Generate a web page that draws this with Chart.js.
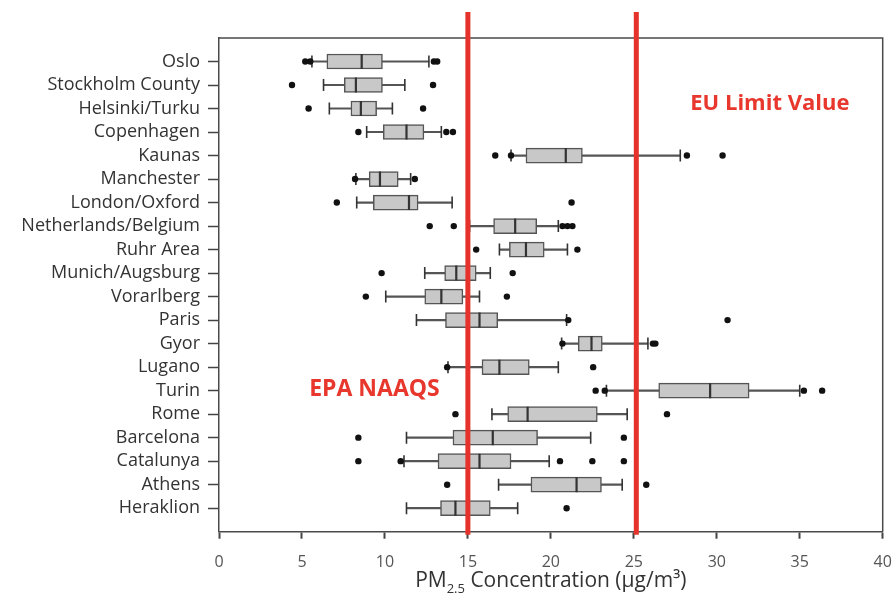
<!DOCTYPE html>
<html>
<head>
<meta charset="utf-8">
<script src="https://cdn.jsdelivr.net/npm/chart.js@4"></script>
<style>
  html, body { margin: 0; padding: 0; background: #fff; }
  #wrap { width: 894px; height: 597px; }
</style>
</head>
<body>
<div id="wrap"><canvas id="pmChart" width="894" height="597"></canvas></div>
<script>
const cities = ["Oslo", "Stockholm County", "Helsinki/Turku", "Copenhagen", "Kaunas",
  "Manchester", "London/Oxford", "Netherlands/Belgium", "Ruhr Area", "Munich/Augsburg",
  "Vorarlberg", "Paris", "Gyor", "Lugano", "Turin", "Rome", "Barcelona", "Catalunya",
  "Athens", "Heraklion"];

const whiskerLow  = [5.6, 6.3, 6.65, 8.9, 17.6, 8.25, 8.3, 15.1, 16.9, 12.4, 10.05, 11.9, 20.65, 13.8, 23.35, 16.45, 11.3, 11.15, 16.85, 11.3];
const q1          = [6.5, 7.55, 7.95, 9.9, 18.5, 9.05, 9.3, 16.55, 17.5, 13.6, 12.4, 13.65, 21.65, 15.85, 26.5, 17.4, 14.1, 13.2, 18.8, 13.35];
const medians     = [8.6, 8.25, 8.55, 11.3, 20.9, 9.7, 11.45, 17.85, 18.5, 14.3, 13.4, 15.7, 22.45, 16.9, 29.6, 18.6, 16.5, 15.7, 21.55, 14.25];
const q3          = [9.85, 9.85, 9.5, 12.35, 21.9, 10.8, 12.0, 19.15, 19.6, 15.5, 14.7, 16.8, 23.1, 18.7, 31.95, 22.8, 19.2, 17.6, 23.05, 16.35];
const whiskerHigh = [12.65, 11.2, 10.45, 13.4, 27.8, 11.55, 14.05, 20.45, 21.0, 16.35, 15.7, 20.95, 25.85, 20.45, 35.0, 24.6, 22.4, 19.9, 24.3, 18.0];
const outliers = [
  [5.2, 5.5, 12.95, 13.15],
  [4.4, 12.9],
  [5.4, 12.3],
  [8.4, 13.7, 14.1],
  [16.65, 17.6, 28.2, 30.35],
  [8.2, 11.8],
  [7.1, 21.25],
  [12.7, 14.15, 20.7, 21.0, 21.3],
  [15.5, 21.6],
  [9.8, 17.7],
  [8.85, 17.35],
  [21.05, 30.65],
  [20.7, 26.15, 26.3],
  [13.75, 22.55],
  [22.7, 23.25, 35.25, 36.35],
  [14.25, 27.0],
  [8.4, 24.4],
  [8.4, 10.95, 20.55, 22.5, 24.4],
  [13.75, 25.75],
  [20.95]
];
const xTicks = [0, 5, 10, 15, 20, 25, 30, 35, 40];
const limitLines = [15, 25.15];
const limitLabels = ["EPA NAAQS", "EU Limit Value"];

const red = "#e5322a";
const boxFill = "#c8c8c8";
const darkLine = "#4a4a4a";

const outlierPoints = [];
outliers.forEach(function (list, i) {
  list.forEach(function (v) { outlierPoints.push({ x: v, y: i }); });
});
const capPoints = cities.map((c, i) => ({ x: whiskerLow[i], y: i }))
  .concat(cities.map((c, i) => ({ x: whiskerHigh[i], y: i })));

// frame, limit lines, annotations and the x axis title (with subscript)
const overlayPlugin = {
  id: "overlay",
  afterDatasetsDraw(chart) {
    const { ctx, chartArea, scales } = chart;
    ctx.save();
    ctx.strokeStyle = darkLine;
    ctx.lineWidth = 1.5;
    ctx.beginPath();
    ctx.moveTo(chartArea.left, chartArea.top);
    ctx.lineTo(chartArea.right, chartArea.top);
    ctx.lineTo(chartArea.right, chartArea.bottom);
    ctx.stroke();

    ctx.strokeStyle = red;
    ctx.lineWidth = 5;
    limitLines.forEach(function (v) {
      const px = scales.x.getPixelForValue(v);
      ctx.beginPath();
      ctx.moveTo(px, chartArea.top - 26);
      ctx.lineTo(px, chartArea.bottom + 3);
      ctx.stroke();
    });

    ctx.fillStyle = "#e8372d";
    ctx.textAlign = "center";
    ctx.textBaseline = "middle";
    ctx.font = "bold 23px 'Open Sans', sans-serif";
    ctx.fillText(limitLabels[0], scales.x.getPixelForValue(9.37), scales.y.getPixelForValue(13.93));
    ctx.font = "bold 22px 'Open Sans', sans-serif";
    ctx.fillText(limitLabels[1], scales.x.getPixelForValue(33.2), scales.y.getPixelForValue(1.8));
    ctx.restore();
  },
  afterDraw(chart) {
    const { ctx, chartArea } = chart;
    ctx.save();
    ctx.fillStyle = "#333";
    ctx.textBaseline = "alphabetic";
    ctx.textAlign = "left";
    const big = "21px 'Open Sans', sans-serif";
    const small = "13px 'Open Sans', sans-serif";
    const parts = [["PM", big, 0], ["2.5", small, 6], [" Concentration (\u00b5g/m\u00b3)", big, 0]];
    let total = 0;
    parts.forEach(function (p) { ctx.font = p[1]; total += ctx.measureText(p[0]).width; });
    let x = (chartArea.left + chartArea.right) / 2 - total / 2;
    const base = 587;
    parts.forEach(function (p) {
      ctx.font = p[1];
      ctx.fillText(p[0], x, base + p[2]);
      x += ctx.measureText(p[0]).width;
    });
    ctx.restore();
  }
};

new Chart(document.getElementById("pmChart"), {
  type: "scatter",
  data: {
    datasets: [
      {
        type: "scatter",
        data: outlierPoints,
        pointRadius: 3.2,
        pointBackgroundColor: "#111",
        pointBorderWidth: 0,
        order: 0
      },
      {
        type: "scatter",
        data: medians.map((v, i) => ({ x: v, y: i })),
        pointStyle: "line",
        rotation: 90,
        pointRadius: 7.5,
        pointBorderColor: "#333",
        pointBorderWidth: 2.2,
        order: 1
      },
      {
        type: "scatter",
        data: capPoints,
        pointStyle: "line",
        rotation: 90,
        pointRadius: 6,
        pointBorderColor: "#333",
        pointBorderWidth: 1.6,
        order: 2
      },
      {
        type: "bar",
        indexAxis: "y",
        data: cities.map((c, i) => ({ y: i, x: [q1[i], q3[i]] })),
        backgroundColor: boxFill,
        borderColor: "#555",
        borderWidth: 1.5,
        borderSkipped: false,
        barThickness: 15,
        grouped: false,
        order: 3
      },
      {
        type: "bar",
        indexAxis: "y",
        data: cities.map((c, i) => ({ y: i, x: [whiskerLow[i], whiskerHigh[i]] })),
        backgroundColor: "#555",
        borderWidth: 0,
        barThickness: 1.5,
        grouped: false,
        order: 4
      }
    ]
  },
  options: {
    responsive: false,
    animation: false,
    events: [],
    layout: { padding: { top: 38, right: 11.3, left: 0, bottom: 0 } },
    plugins: { legend: { display: false }, tooltip: { enabled: false } },
    scales: {
      x: {
        type: "linear",
        min: 0,
        max: 40,
        offset: false,
        afterBuildTicks: (axis) => { axis.ticks = xTicks.map((v) => ({ value: v })); },
        afterFit: (axis) => { axis.height = 65.3; axis.paddingLeft = 0; axis.paddingRight = 0; },
        grid: { offset: false, drawOnChartArea: false, drawTicks: true, tickLength: 7, tickColor: "#444", tickWidth: 2 },
        border: { display: true, color: darkLine, width: 1.5 },
        ticks: { color: "#555", padding: 14, maxRotation: 0, font: { family: "'Open Sans', sans-serif", size: 16 } }
      },
      y: {
        type: "linear",
        reverse: true,
        min: -1,
        max: 20,
        offset: false,
        afterBuildTicks: (axis) => { axis.ticks = cities.map((c, i) => ({ value: i })); },
        afterFit: (axis) => { axis.width = 219; },
        grid: { offset: false, drawOnChartArea: false, drawTicks: true, tickLength: 11, tickColor: "#444", tickWidth: 1.5 },
        border: { display: true, color: darkLine, width: 1.5 },
        ticks: {
          color: "#333",
          padding: 8,
          autoSkip: false,
          font: { family: "'Open Sans', sans-serif", size: 18 },
          callback: (v) => cities[v]
        }
      }
    }
  },
  plugins: [overlayPlugin]
});
</script>
</body>
</html>
